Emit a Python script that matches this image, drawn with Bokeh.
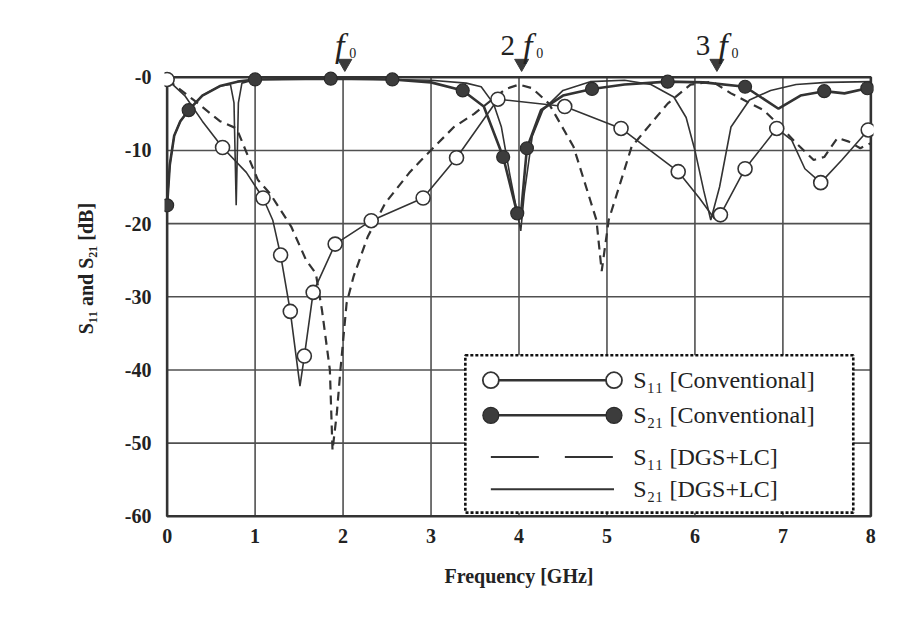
from bokeh.plotting import figure
from bokeh.models import Range1d, FixedTicker, BoxAnnotation
from bokeh.core.properties import value
from bokeh.embed import file_html
from bokeh.resources import INLINE

# ---------------- data ----------------
x_ticks = [0, 1, 2, 3, 4, 5, 6, 7, 8]
y_ticks = [-60, -50, -40, -30, -20, -10, 0]
y_tick_labels = ["-60", "-50", "-40", "-30", "-20", "-10", "-0"]

# S11 conventional (thin line + open circles)
s11c_x = [0.0, 0.2, 0.4, 0.63, 0.9, 1.09, 1.2, 1.29, 1.40, 1.51, 1.56, 1.66, 1.91, 2.32, 2.91, 3.29, 3.76,
          4.52, 5.16, 5.81, 6.05, 6.22, 6.29, 6.57, 6.93, 7.1, 7.25, 7.43, 7.67, 7.97]
s11c_y = [-0.3, -2.5, -6.0, -9.6, -13.0, -16.5, -19.5, -24.3, -32.0, -42.2, -38.1, -29.4, -22.8, -19.6, -16.5,
          -11.0, -3.0, -4.0, -7.0, -12.9, -16.5, -19.3, -18.8, -12.5, -7.0, -8.6, -12.5, -14.4, -11.3, -7.2]
s11c_mx = [0.0, 0.63, 1.09, 1.29, 1.40, 1.56, 1.66, 1.91, 2.32, 2.91, 3.29, 3.76, 4.52, 5.16, 5.81, 6.29,
           6.57, 6.93, 7.43, 7.97]
s11c_my = [-0.3, -9.6, -16.5, -24.3, -32.0, -38.1, -29.4, -22.8, -19.6, -16.5, -11.0, -3.0, -4.0, -7.0,
           -12.9, -18.8, -12.5, -7.0, -14.4, -7.2]

# S21 conventional (thick line + filled circles)
s21c_x = [0.0, 0.03, 0.08, 0.15, 0.245, 0.4, 0.6, 0.8, 1.0, 1.86, 2.56, 3.0, 3.36, 3.6, 3.82, 3.98, 4.02,
          4.09, 4.25, 4.5, 4.83, 5.2, 5.69, 6.1, 6.57, 6.95, 7.2, 7.47, 7.7, 7.96]
s21c_y = [-17.5, -12.0, -8.0, -6.0, -4.5, -2.5, -1.2, -0.6, -0.3, -0.2, -0.3, -0.7, -1.8, -4.0, -10.9, -18.6,
          -19.0, -9.7, -4.5, -2.5, -1.6, -1.0, -0.6, -0.7, -1.3, -4.3, -2.5, -1.9, -2.2, -1.5]
s21c_mx = [0.0, 0.245, 1.0, 1.86, 2.56, 3.36, 3.82, 3.98, 4.09, 4.83, 5.69, 6.57, 7.47, 7.96]
s21c_my = [-17.5, -4.5, -0.3, -0.2, -0.3, -1.8, -10.9, -18.6, -9.7, -1.6, -0.6, -1.3, -1.9, -1.5]

# S11 DGS+LC (dashed)
s11d_x = [0.0, 0.3, 0.6, 0.79, 1.03, 1.17, 1.41, 1.58, 1.69, 1.76, 1.85, 1.88, 1.93, 1.97, 2.04, 2.12, 2.28,
          2.48, 2.75, 2.89, 3.26, 3.49, 3.69, 3.85, 4.0, 4.15, 4.34, 4.62, 4.88, 4.94, 5.02, 5.28, 5.69,
          5.95, 6.2, 6.41, 6.78, 6.98, 7.15, 7.35, 7.47, 7.62, 7.75, 7.88, 8.0]
s11d_y = [-0.3, -3.1, -6.0, -7.0, -14.0, -15.9, -20.4, -25.0, -26.8, -31.8, -40.0, -51.0, -45.8, -40.0,
          -30.9, -27.2, -21.8, -17.2, -13.1, -11.3, -6.8, -5.0, -3.1, -1.6, -1.0, -1.5, -3.6, -9.5, -19.5,
          -26.5, -19.5, -9.5, -3.6, -1.0, -0.6, -2.2, -4.5, -6.8, -9.0, -11.3, -10.9, -8.3, -8.8, -9.7, -9.0]

# S21 DGS+LC (thin solid)
s21d_x = [0.0, 0.03, 0.08, 0.15, 0.245, 0.4, 0.6, 0.72, 0.76, 0.785, 0.81, 0.85, 1.0, 2.0, 3.0, 3.4, 3.57,
          3.71, 3.8, 3.9, 4.02, 4.06, 4.15, 4.27, 4.5, 4.81, 5.2, 5.5, 5.76, 5.9, 6.0, 6.1, 6.18, 6.28,
          6.41, 6.62, 6.86, 7.15, 7.5, 8.0]
s21d_y = [-17.5, -12.0, -8.0, -6.0, -4.5, -2.5, -1.2, -1.0, -3.5, -17.5, -3.5, -0.8, -0.3, -0.2, -0.4, -0.8,
          -1.3, -3.6, -6.8, -13.6, -21.0, -15.9, -8.1, -4.5, -1.8, -0.6, -0.4, -1.0, -2.7, -5.5, -10.0,
          -15.5, -19.5, -15.0, -6.8, -3.1, -1.8, -1.0, -0.7, -0.6]

# harmonic markers f0, 2f0, 3f0
harm_x = [2.02, 4.03, 6.25]
harm_prefix = ["", "2", "3"]

legend_labels = ["S\u2081\u2081 [Conventional]", "S\u2082\u2081 [Conventional]",
                 "S\u2081\u2081 [DGS+LC]", "S\u2082\u2081 [DGS+LC]"]

# ---------------- figure ----------------
INK = "#333333"
TXT = "#222222"
SERIF = "Liberation Serif"
X0, X1 = x_ticks[0], x_ticks[-1]
Y0, Y1 = y_ticks[0], y_ticks[-1]

p = figure(width=882, height=619, x_range=Range1d(-0.03, 8.03), y_range=Range1d(-60.3, 8.03),
           output_backend="svg", toolbar_location=None,
           min_border_left=164, min_border_right=9, min_border_top=18, min_border_bottom=101)
p.background_fill_color = "white"
p.border_fill_color = "white"
p.outline_line_color = None
p.xgrid.visible = False
p.ygrid.visible = False

p.xaxis.ticker = FixedTicker(ticks=x_ticks)
p.yaxis.ticker = FixedTicker(ticks=y_ticks)
p.yaxis.major_label_overrides = {t: l for t, l in zip(y_ticks, y_tick_labels)}
for ax in (p.xaxis[0], p.yaxis[0]):
    ax.axis_line_color = None
    ax.major_tick_line_color = None
    ax.minor_tick_line_color = None
    ax.major_label_text_font = SERIF
    ax.major_label_text_font_style = "bold"
    ax.major_label_text_font_size = "20px"
    ax.major_label_text_color = TXT
    ax.axis_label_text_font = SERIF
    ax.axis_label_text_font_style = "bold"
    ax.axis_label_text_font_size = "20px"
    ax.axis_label_text_color = TXT
p.xaxis.axis_label = "Frequency [GHz]"
p.yaxis.axis_label = "S\u2081\u2081 and S\u2082\u2081 [dB]"
p.xaxis.major_label_standoff = 4
p.xaxis.axis_label_standoff = 19
p.yaxis.major_label_standoff = 7
p.yaxis.axis_label_standoff = 25

# grid lines (limited to the plotting box) and the box itself
inner_x = x_ticks[1:-1]
inner_y = y_ticks[1:-1]
p.segment(x0=inner_x, x1=inner_x, y0=[Y0] * len(inner_x), y1=[Y1] * len(inner_x),
          line_color="#505050", line_width=1.6)
p.segment(x0=[X0] * len(inner_y), x1=[X1] * len(inner_y), y0=inner_y, y1=inner_y,
          line_color="#505050", line_width=1.6)
p.quad(left=[X0], right=[X1], bottom=[Y0], top=[Y1], fill_color=None, line_color=INK, line_width=2.6)

# curves
p.line(s11d_x, s11d_y, line_color=INK, line_width=2.2, line_dash="9 6")
p.line(s21d_x, s21d_y, line_color=INK, line_width=1.6)
p.line(s11c_x, s11c_y, line_color=INK, line_width=1.6)
p.line(s21c_x, s21c_y, line_color=INK, line_width=2.6)
p.scatter(s11c_mx, s11c_my, marker="circle", size=14, fill_color="white", line_color=INK, line_width=1.6)
p.scatter(s21c_mx, s21c_my, marker="circle", size=13, fill_color="#3c3c3c", line_color="#2a2a2a",
          line_width=1.2)

# harmonic markers above the box
n = len(harm_x)
p.scatter(harm_x, [1.9] * n, marker="inverted_triangle", size=14, fill_color="#3a3a3a", line_color="#3a3a3a")
has_pre = [i for i in range(n) if harm_prefix[i]]
p.text([harm_x[i] for i in has_pre], [4.37] * len(has_pre), text=[harm_prefix[i] for i in has_pre],
       x_offset=-14, text_align="center", text_baseline="alphabetic", text_font=value(SERIF),
       text_font_size="29px", text_color=TXT)
f_off = [6 if pre else -5 for pre in harm_prefix]
z_off = [18 if pre else 8 for pre in harm_prefix]
p.text(harm_x, [4.37] * n, text=["f"] * n, x_offset=f_off, text_align="center",
       text_baseline="alphabetic", text_font=value(SERIF), text_font_style="italic",
       text_font_size="34px", text_color=TXT)
p.text(harm_x, [3.28] * n, text=["0"] * n, x_offset=z_off, text_align="center",
       text_baseline="alphabetic", text_font=value(SERIF), text_font_size="14px", text_color=TXT)

# ---------------- legend (drawn by hand) ----------------
LX0, LX1 = 3.39, 7.80
LY0, LY1 = -59.5, -38.0
SX0, SX1, TX = 3.68, 5.08, 5.30
row_y = [-41.4, -46.2, -51.9, -56.3]

p.add_layout(BoxAnnotation(left=LX0, right=LX1, bottom=LY0, top=LY1, fill_color="white", fill_alpha=1.0,
                           line_color=None, level="glyph"))
leg = []
leg.append(p.quad(left=[LX0], right=[LX1], bottom=[LY0], top=[LY1], fill_color=None,
                  line_color="#111111", line_width=2.6, line_dash="3 2"))
leg.append(p.line([SX0, SX1], [row_y[0]] * 2, line_color=INK, line_width=2.4))
leg.append(p.scatter([SX0, SX1], [row_y[0]] * 2, marker="circle", size=16, fill_color="white",
                     line_color=INK, line_width=1.8))
leg.append(p.line([SX0, SX1], [row_y[1]] * 2, line_color=INK, line_width=2.6))
leg.append(p.scatter([SX0, SX1], [row_y[1]] * 2, marker="circle", size=16, fill_color="#3c3c3c",
                     line_color="#2a2a2a", line_width=1.2))
leg.append(p.line([SX0, SX1], [row_y[2]] * 2, line_color=INK, line_width=2.0, line_dash="48 26"))
leg.append(p.line([SX0, SX1], [row_y[3]] * 2, line_color=INK, line_width=1.8))
leg.append(p.text([TX] * 4, row_y, text=legend_labels, text_baseline="middle", text_font=value(SERIF),
                  text_font_size="24px", text_color=TXT))
for r in leg:
    r.level = "annotation"

open("out.html", "w").write(file_html(p, INLINE))
